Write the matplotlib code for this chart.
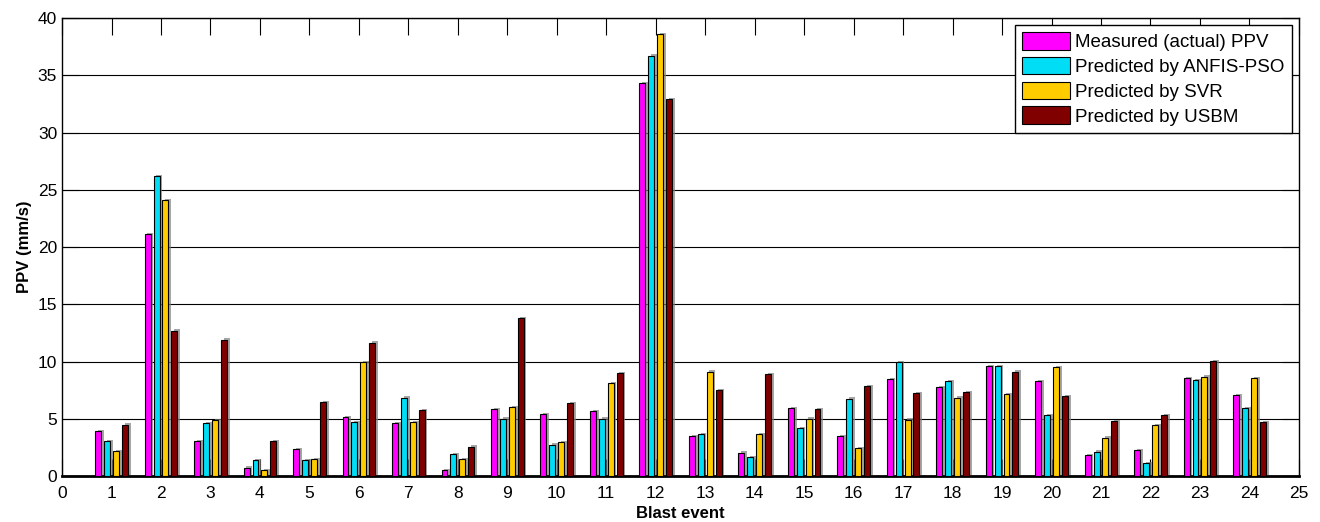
import numpy as np
import matplotlib
matplotlib.use('Agg')
import matplotlib.pyplot as plt
import matplotlib.patheffects as pe

plt.rcParams['font.family'] = ['Liberation Sans', 'DejaVu Sans']

events = np.arange(1, 25)

measured = [3.92, 21.1, 3.07, 0.73, 2.37, 5.12, 4.60, 0.53, 5.82, 5.41, 5.65, 34.3,
            3.48, 2.05, 5.91, 3.48, 8.48, 7.75, 9.60, 8.28, 1.84, 2.25, 8.57, 7.05]
anfis_pso = [3.07, 26.2, 4.62, 1.38, 1.38, 4.71, 6.84, 1.93, 5.00, 2.75, 5.00, 36.7,
             3.68, 1.64, 4.18, 6.75, 9.94, 8.28, 9.60, 5.29, 2.14, 1.11, 8.37, 5.91]
svr = [2.17, 24.1, 4.88, 0.53, 1.46, 9.95, 4.71, 1.46, 6.03, 2.98, 8.10, 38.6,
       9.10, 3.68, 5.00, 2.46, 4.91, 6.84, 7.14, 9.50, 3.36, 4.42, 8.69, 8.57]
usbm = [4.50, 12.7, 11.9, 3.07, 6.44, 11.64, 5.74, 2.58, 13.8, 6.35, 8.98, 32.9,
        7.49, 8.89, 5.82, 7.87, 7.25, 7.34, 9.10, 6.96, 4.80, 5.29, 10.05, 4.71]

series = [measured, anfis_pso, svr, usbm]
labels = ['Measured (actual) PPV', 'Predicted by ANFIS-PSO',
          'Predicted by SVR', 'Predicted by USBM']
colors = ['#ff00ff', '#00ddf5', '#ffcc00', '#800000']
offsets = [-0.27, -0.09, 0.09, 0.27]

fig = plt.figure(figsize=(13.2, 5.22), dpi=100)
ax = fig.add_axes([0.047, 0.088, 0.937, 0.8775])

# gray drop shadow like the original export
shadow = [pe.SimplePatchShadow(offset=(2, 1), shadow_rgbFace='gray', alpha=0.7), pe.Normal()]
for vals, lab, c, off in zip(series, labels, colors, offsets):
    bars = ax.bar(events + off, vals, width=0.12, color=c, edgecolor='black',
                  linewidth=0.8, label=lab, zorder=3)
    for b in bars:
        b.set_path_effects(shadow)

ax.set_xlim(0, 25)
ax.set_ylim(0, 40)
ax.set_xticks(np.arange(0, 26))
ax.set_yticks(np.arange(0, 41, 5))
ax.yaxis.grid(True, color='black', linewidth=0.8, zorder=0)
ax.set_axisbelow(True)
ax.tick_params(direction='in', length=12, width=0.8, top=True, right=True,
               labelsize=12.5)
ax.tick_params(axis='x', pad=7)
for s in ax.spines.values():
    s.set_linewidth(1.0)
ax.spines['bottom'].set_linewidth(2.0)

ax.set_xlabel('Blast event', fontsize=12, fontweight='bold', labelpad=4)
ax.set_ylabel('PPV (mm/s)', fontsize=12, fontweight='bold', labelpad=4)

leg = ax.legend(loc='upper right', fontsize=13.5, fancybox=False, framealpha=1,
                edgecolor='black', handlelength=2.55, handleheight=1.05,
                handletextpad=0.3, borderpad=0.38, labelspacing=0.3,
                borderaxespad=0.38)
leg.get_frame().set_linewidth(1.0)
for h in leg.legend_handles:
    h.set_path_effects([])

fig.savefig('out.png', dpi=100)
